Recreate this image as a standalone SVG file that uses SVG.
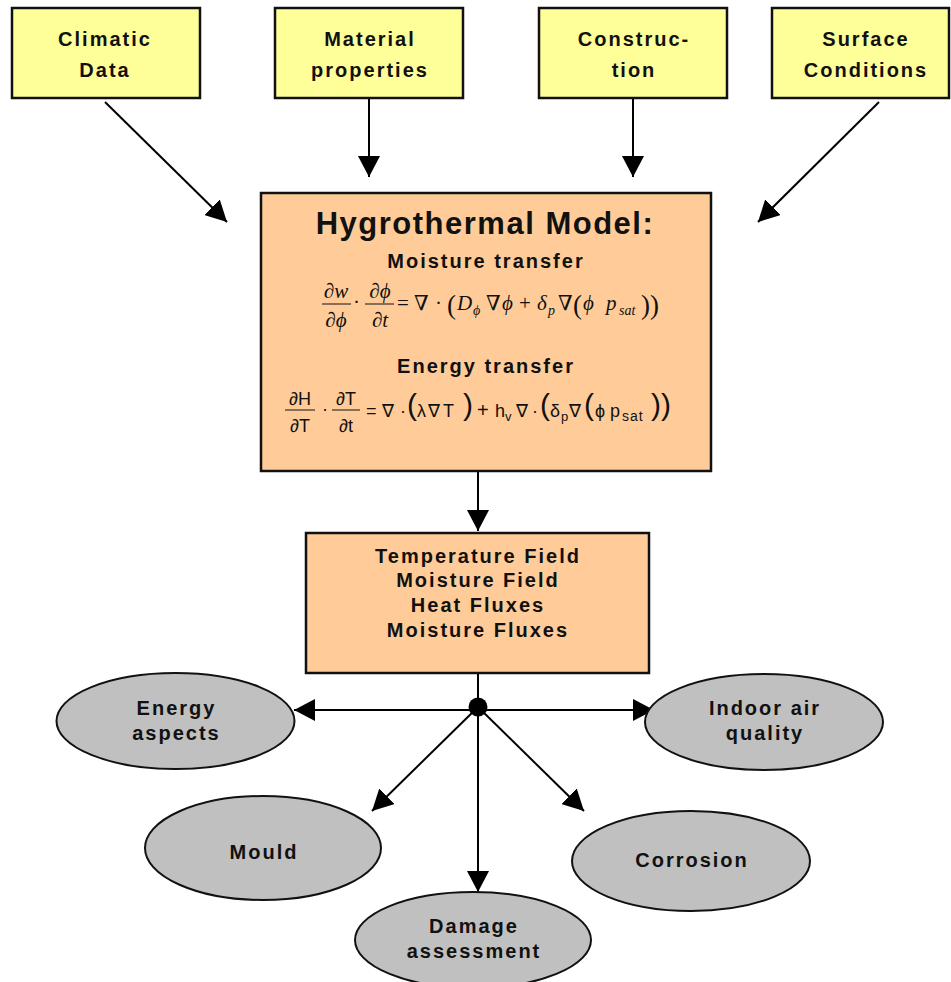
<svg xmlns="http://www.w3.org/2000/svg" width="951" height="982" viewBox="0 0 951 982">
<style>
.lbl{font-family:"Liberation Sans",Arial,sans-serif;font-weight:bold;font-size:20px;letter-spacing:2px;text-anchor:middle;fill:#111}
.title{font-family:"Liberation Sans",Arial,sans-serif;font-weight:bold;font-size:31px;letter-spacing:1.5px;text-anchor:middle;fill:#111}
.ybox{fill:#FFFF99;stroke:#111;stroke-width:2.5}
.obox{fill:#FFCC99;stroke:#111;stroke-width:2.5}
.ell{fill:#C0C0C0;stroke:#111;stroke-width:2}
.con{stroke:#000;stroke-width:2;fill:none}
.arr{marker-end:url(#ah)}
.ms{font-family:"Liberation Serif","DejaVu Serif",serif;font-size:21px;fill:#111}
.es{font-family:"Liberation Sans","DejaVu Sans",sans-serif;font-size:18px;fill:#111}
.it{font-style:italic}
.bar{stroke:#111;stroke-width:1}
.pm{font-size:27px}
.pe{font-size:30px;font-weight:300}
.sm{font-size:14px}
.se{font-size:13px}
</style>
<defs>
<marker id="ah" markerUnits="userSpaceOnUse" markerWidth="22" markerHeight="22" refX="21" refY="11" orient="auto">
<path d="M0,0 L21,11 L0,22 z" fill="#000"/>
</marker>
</defs>

<g id="connectors">
<line class="con arr" x1="105" y1="102" x2="227" y2="222"/>
<line class="con arr" x1="369" y1="98" x2="369" y2="177"/>
<line class="con arr" x1="633" y1="98" x2="633" y2="177"/>
<line class="con arr" x1="879" y1="102" x2="758" y2="222"/>
<line class="con arr" x1="478" y1="471" x2="478" y2="531"/>
<line class="con" x1="478" y1="673" x2="478" y2="707"/>
<line class="con arr" x1="478" y1="710" x2="294" y2="710"/>
<line class="con arr" x1="478" y1="710" x2="654" y2="710"/>
<line class="con arr" x1="478" y1="707" x2="478" y2="892"/>
<line class="con arr" x1="478" y1="707" x2="372" y2="811"/>
<line class="con arr" x1="478" y1="707" x2="584" y2="811"/>
<circle cx="478" cy="707" r="9.5" fill="#000"/>
</g>

<g id="climatic">
<rect class="ybox" x="12" y="8" width="188" height="90"/>
<text class="lbl" x="105" y="46">Climatic</text>
<text class="lbl" x="105" y="77">Data</text>
</g>
<g id="material">
<rect class="ybox" x="275" y="8" width="188" height="90"/>
<text class="lbl" x="370" y="46">Material</text>
<text class="lbl" x="370" y="77">properties</text>
</g>
<g id="construction">
<rect class="ybox" x="539" y="8" width="188" height="90"/>
<text class="lbl" x="634" y="46">Construc-</text>
<text class="lbl" x="634" y="77">tion</text>
</g>
<g id="surface">
<rect class="ybox" x="772" y="8" width="177" height="90"/>
<text class="lbl" x="866" y="46">Surface</text>
<text class="lbl" x="866" y="77">Conditions</text>
</g>

<g id="model">
<rect class="obox" x="261" y="193" width="450" height="278"/>
<text class="title" x="485" y="234">Hygrothermal Model:</text>
<text class="lbl" x="486" y="268">Moisture transfer</text>
<!-- moisture equation -->
<text class="ms" x="336" y="298" text-anchor="middle">∂<tspan class="it">w</tspan></text>
<line class="bar" x1="322" y1="304" x2="351" y2="304"/>
<text class="ms" x="336" y="327" text-anchor="middle">∂<tspan class="it">ϕ</tspan></text>
<text class="ms" x="353" y="309">·</text>
<text class="ms" x="380" y="298" text-anchor="middle">∂<tspan class="it">ϕ</tspan></text>
<line class="bar" x1="365" y1="304" x2="394" y2="304"/>
<text class="ms" x="380" y="327" text-anchor="middle">∂<tspan class="it">t</tspan></text>
<text class="ms" x="397" y="310">=</text>
<text class="ms" x="414" y="310">∇</text>
<text class="ms" x="435" y="310">·</text>
<text class="ms pm" x="447" y="314">(</text>
<text class="ms it" x="457" y="310">D</text>
<text class="ms it sm" x="473" y="315">ϕ</text>
<text class="ms" x="486" y="310">∇</text>
<text class="ms it" x="502" y="310">ϕ</text>
<text class="ms" x="519" y="310">+</text>
<text class="ms it" x="537" y="310">δ</text>
<text class="ms it sm" x="548" y="315">p</text>
<text class="ms" x="558" y="310">∇</text>
<text class="ms pm" x="573" y="314">(</text>
<text class="ms it" x="583" y="310">ϕ</text>
<text class="ms it" x="606" y="310">p</text>
<text class="ms it sm" x="619" y="315">sat</text>
<text class="ms pm" x="641" y="314">))</text>

<text class="lbl" x="486" y="373">Energy transfer</text>
<!-- energy equation -->
<text class="es" x="300" y="405" text-anchor="middle">∂H</text>
<line class="bar" x1="285" y1="410" x2="315" y2="410"/>
<text class="es" x="300" y="432" text-anchor="middle">∂T</text>
<text class="es" x="322" y="415">·</text>
<text class="es" x="346" y="405" text-anchor="middle">∂T</text>
<line class="bar" x1="332" y1="410" x2="360" y2="410"/>
<text class="es" x="346" y="432" text-anchor="middle">∂t</text>
<text class="es" x="366" y="417">=</text>
<text class="es" x="382" y="417">∇</text>
<text class="es" x="400" y="417">·</text>
<text class="es pe" x="407" y="415">(</text>
<text class="es" x="417" y="417">λ</text>
<text class="es" x="428" y="417">∇</text>
<text class="es" x="443" y="417">T</text>
<text class="es pe" x="463" y="415">)</text>
<text class="es" x="477" y="417" style="font-size:20px">+</text>
<text class="es" x="495" y="417">h</text>
<text class="es se" x="505" y="421">v</text>
<text class="es" x="516" y="417">∇</text>
<text class="es" x="532" y="417">·</text>
<text class="es pe" x="540" y="415">(</text>
<text class="es" x="550" y="417">δ</text>
<text class="es se" x="561" y="421">p</text>
<text class="es" x="569" y="417">∇</text>
<text class="es pe" x="584" y="415">(</text>
<text class="es" x="595" y="417">ϕ</text>
<text class="es" x="610" y="417">p</text>
<text class="es" x="622" y="421" style="font-size:14px;letter-spacing:1px">sat</text>
<text class="es pe" x="651" y="415">))</text>
</g>

<g id="results">
<rect class="obox" x="306" y="533" width="343" height="140"/>
<text class="lbl" x="478" y="563">Temperature Field</text>
<text class="lbl" x="478" y="587">Moisture Field</text>
<text class="lbl" x="478" y="612">Heat Fluxes</text>
<text class="lbl" x="478" y="637">Moisture Fluxes</text>
</g>

<g id="energy">
<ellipse class="ell" cx="175.5" cy="721" rx="119" ry="48"/>
<text class="lbl" x="176.5" y="715">Energy</text>
<text class="lbl" x="176.5" y="740">aspects</text>
</g>
<g id="indoor">
<ellipse class="ell" cx="764" cy="722" rx="119" ry="48"/>
<text class="lbl" x="765" y="715">Indoor air</text>
<text class="lbl" x="765" y="740">quality</text>
</g>
<g id="mould">
<ellipse class="ell" cx="263" cy="848" rx="118" ry="52"/>
<text class="lbl" x="264" y="859">Mould</text>
</g>
<g id="corrosion">
<ellipse class="ell" cx="691" cy="861" rx="119" ry="50"/>
<text class="lbl" x="692" y="867">Corrosion</text>
</g>
<g id="damage">
<ellipse class="ell" cx="473" cy="940" rx="118" ry="48"/>
<text class="lbl" x="474" y="933">Damage</text>
<text class="lbl" x="474" y="958">assessment</text>
</g>
</svg>
